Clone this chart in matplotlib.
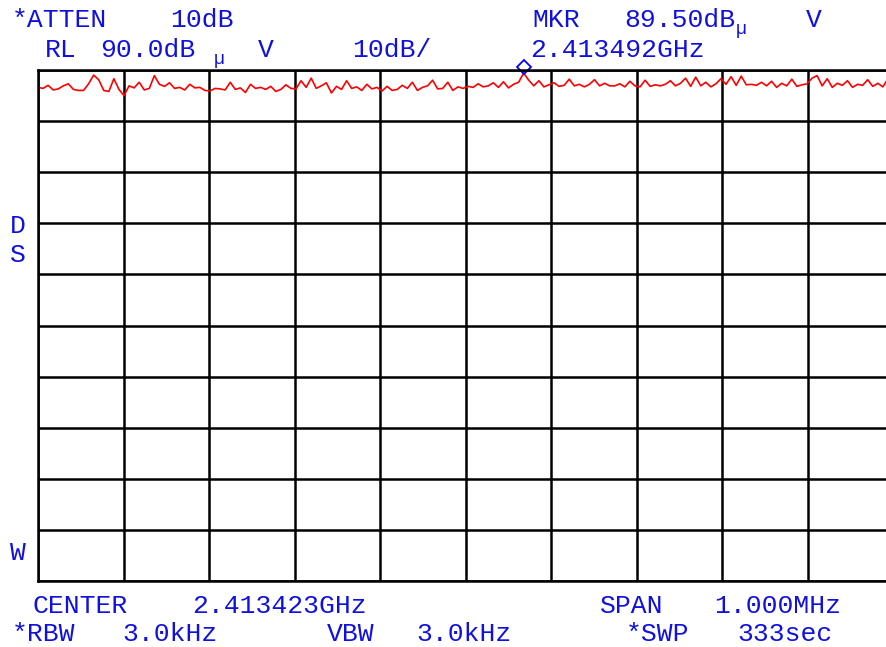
import numpy as np
import matplotlib.pyplot as plt

# analyzer settings
center_ghz = 2.413423
span_mhz = 1.0
ref_level = 90.0
db_per_div = 10.0
marker_ghz = 2.413492
marker_db = 89.50

# trace level (dBuV), left to right
trace_db = [
    86.6, 86.4, 87.0, 86.1, 86.3, 86.9, 87.3, 86.2, 86.0, 86.0, 87.3, 89.0, 88.1, 86.0, 85.8, 88.3, 86.2,
    85.0, 86.9, 86.5, 87.6, 86.1, 86.4, 88.9, 87.2, 86.8, 87.5, 86.4, 86.6, 86.1, 87.2, 86.5, 86.6, 86.0,
    85.9, 86.4, 86.3, 86.1, 87.6, 86.2, 86.5, 85.6, 87.2, 86.4, 86.6, 86.2, 86.8, 85.8, 86.2, 87.1, 86.4,
    86.3, 87.9, 86.6, 88.4, 86.4, 86.9, 87.5, 85.5, 86.8, 86.2, 87.9, 86.4, 86.7, 86.0, 87.2, 86.3, 86.6,
    85.9, 86.8, 86.0, 86.2, 87.0, 86.4, 87.6, 86.0, 86.6, 86.9, 88.0, 86.3, 86.4, 87.6, 86.0, 86.7, 86.4,
    86.8, 86.6, 87.3, 86.7, 86.9, 87.5, 86.6, 87.7, 86.5, 87.2, 87.6, 89.4, 88.0, 86.9, 87.9, 86.7, 87.1,
    87.5, 86.8, 87.0, 88.2, 86.9, 87.2, 86.7, 87.2, 88.1, 86.9, 87.4, 86.9, 86.9, 87.3, 86.7, 87.8, 86.9,
    86.7, 88.0, 86.8, 87.1, 86.9, 87.2, 87.9, 86.9, 87.4, 88.4, 86.8, 88.6, 86.9, 87.6, 86.7, 87.3, 88.3,
    87.2, 88.7, 87.0, 88.8, 87.1, 87.2, 87.0, 87.6, 86.9, 87.8, 86.6, 87.4, 86.9, 88.2, 86.8, 87.1, 87.3,
    88.4, 88.9, 86.9, 88.3, 86.6, 87.4, 87.0, 87.9, 86.6, 87.2, 87.0, 88.1, 86.8, 87.4, 86.7, 88.3, 87.1,
]

f_start = center_ghz - span_mhz / 2000
f_stop = center_ghz + span_mhz / 2000
freqs = np.linspace(f_start, f_stop, len(trace_db))

W, H = 886, 647
fig = plt.figure(figsize=(W / 100, H / 100), dpi=100)
ax = fig.add_axes([38 / W, 1 - 581 / H, 855 / W, 511 / H])

ax.plot(freqs, trace_db, color="red", lw=1.2)
ax.plot([marker_ghz], [ref_level + 0.6], marker="D", ms=7, mfc="none",
        mec="blue", mew=1.3, clip_on=False)

ax.set_xlim(f_start, f_stop)
ax.set_ylim(ref_level - 10 * db_per_div, ref_level)
ax.set_xticks(np.linspace(f_start, f_stop, 11))
ax.set_yticks(np.arange(ref_level - 10 * db_per_div, ref_level + 1, db_per_div))
ax.grid(True, color="black", lw=1.8)
ax.tick_params(length=0, labelbottom=False, labelleft=False)
for s in ax.spines.values():
    s.set_linewidth(1.8)

blue = "#1010e0"
font = dict(family="Liberation Mono", fontsize=19, color=blue, va="center")


def label(x, y, s, **kw):
    d = dict(font)
    d.update(kw)
    fig.text(x / W, 1 - y / H, s, **d)


label(12, 20, "*ATTEN")
label(170, 20, "10dB")
label(532, 20, "MKR")
label(624, 20, "89.50dB")
label(736, 30, "\u00b5", fontsize=13)
label(806, 20, "V")
label(45, 50, "RL")
label(100, 50, "90.0dB")
label(214, 60, "\u00b5", fontsize=13)
label(258, 50, "V")
label(352, 50, "10dB/")
label(530, 50, "2.413492GHz")

label(10, 226, "D")
label(10, 255, "S")
label(10, 553, "W")

label(32, 606, "CENTER")
label(192, 606, "2.413423GHz")
label(600, 606, "SPAN")
label(714, 606, "1.000MHz")
label(12, 634, "*RBW")
label(122, 634, "3.0kHz")
label(327, 634, "VBW")
label(416, 634, "3.0kHz")
label(626, 634, "*SWP")
label(737, 634, "333sec")

fig.savefig("out.png", dpi=100)
